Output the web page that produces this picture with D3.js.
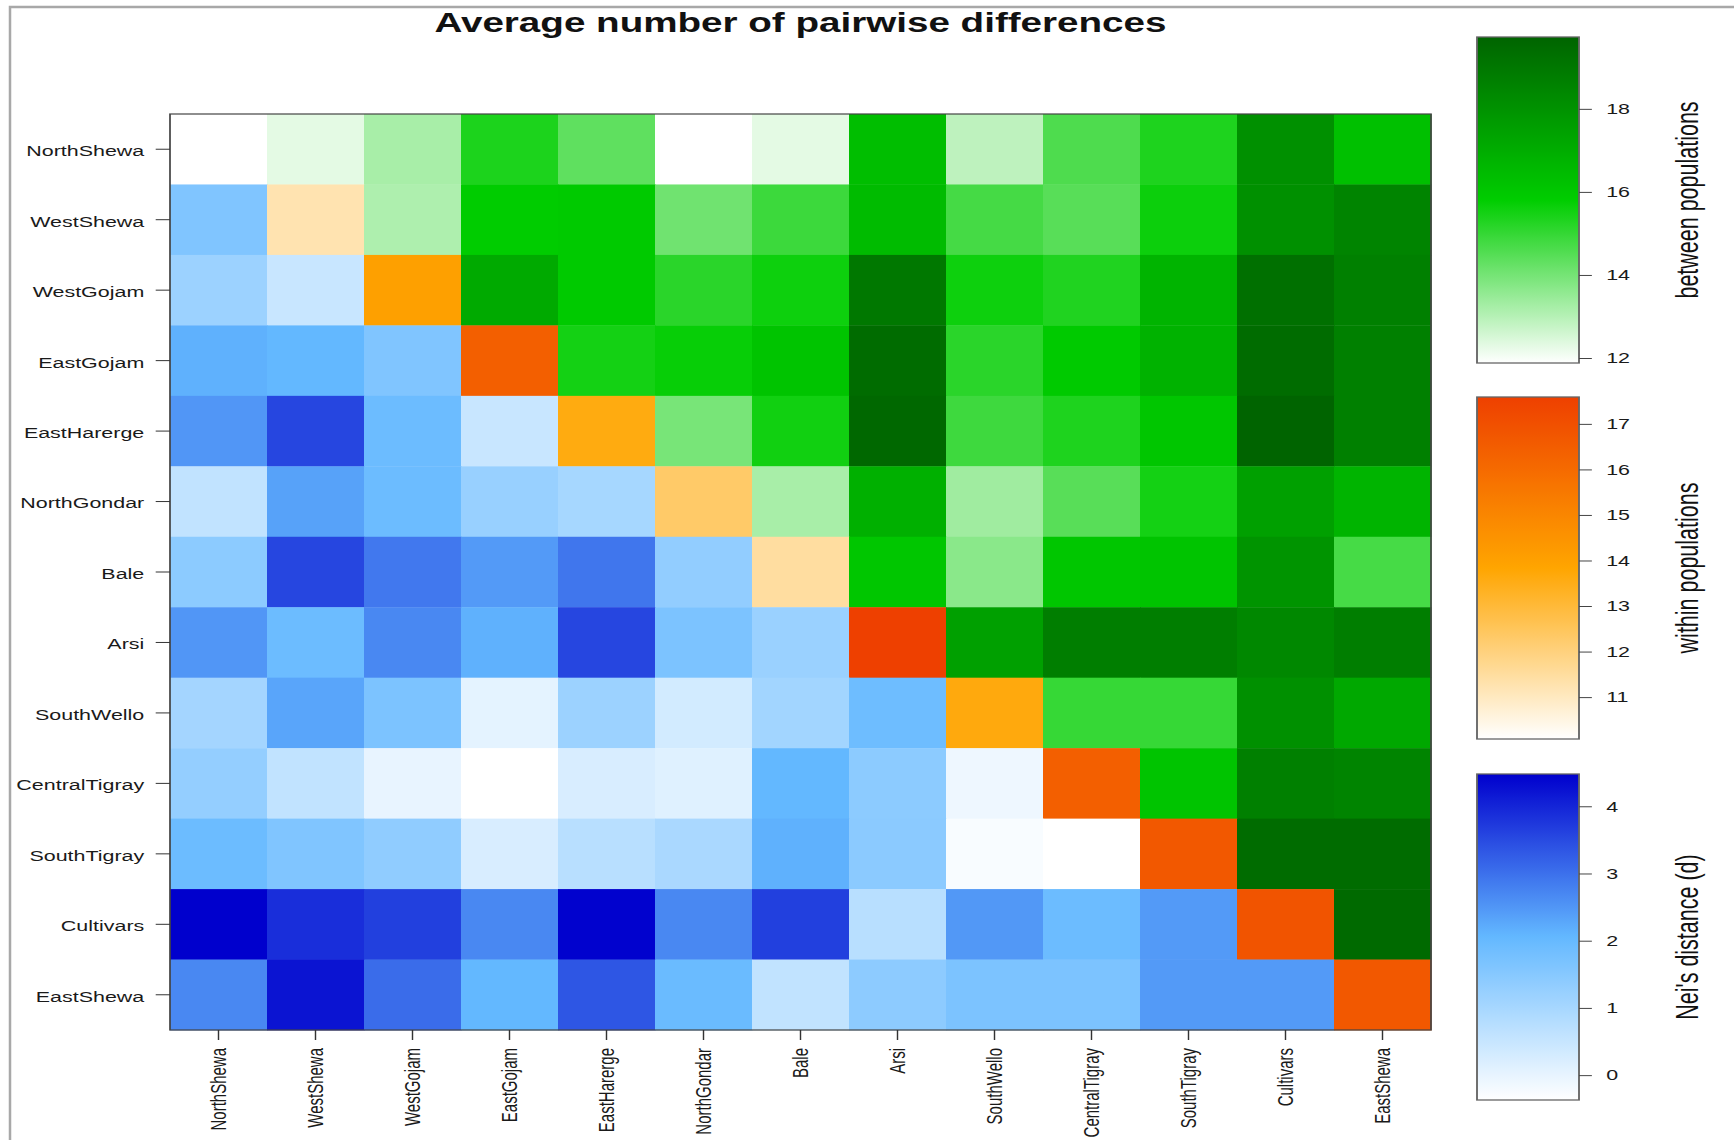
<!DOCTYPE html>
<html>
<head>
<meta charset="utf-8">
<script src="https://cdn.jsdelivr.net/npm/d3@7"></script>
<style>
  body { margin: 0; background: #fff; }
  svg { display: block; font-family: "Liberation Sans", Arial, sans-serif; }
</style>
</head>
<body>
<svg id="chart" width="1734" height="1140"></svg>
<script>
// ---- data -------------------------------------------------------------
const chartTitle = "Average number of pairwise differences";

const populations = [
  "NorthShewa", "WestShewa", "WestGojam", "EastGojam", "EastHarerge",
  "NorthGondar", "Bale", "Arsi", "SouthWello", "CentralTigray",
  "SouthTigray", "Cultivars", "EastShewa"
];

// average pairwise differences within each population (diagonal)
const withinPop = [10.08, 11.25, 14.03, 16.45, 13.60, 12.30, 11.48, 17.59, 13.65, 16.45, 16.70, 16.85, 16.70];

// average pairwise differences between populations (upper triangle, row i, columns i+1..)
const betweenPop = [
  [12.30, 13.22, 15.37, 14.34, 11.88, 12.30, 16.37, 12.88, 14.60, 15.34, 18.08, 16.29],
  [13.13, 15.85, 15.90, 14.08, 14.88, 16.48, 14.75, 14.45, 15.62, 18.08, 18.53],
  [17.12, 15.90, 15.16, 15.60, 18.98, 15.60, 15.31, 16.74, 19.28, 18.68],
  [15.49, 15.70, 16.14, 19.43, 15.16, 15.90, 16.81, 19.43, 18.68],
  [13.96, 15.55, 19.58, 14.85, 15.34, 16.05, 19.73, 18.68],
  [13.22, 16.89, 13.34, 14.45, 15.50, 17.49, 16.74],
  [16.05, 13.68, 16.05, 16.14, 17.94, 14.73],
  [17.49, 18.76, 18.76, 18.38, 18.76],
  [14.97, 14.97, 18.08, 17.19],
  [16.14, 18.68, 18.53],
  [19.43, 19.43],
  [19.50],
  []
];

// Nei's distance (lower triangle, row i, columns 0..i-1)
const neiDistance = [
  [],
  [1.60],
  [1.17, 0.48],
  [2.15, 2.05, 1.60],
  [2.50, 3.56, 1.91, 0.48],
  [0.60, 2.34, 1.91, 1.23, 1.01],
  [1.42, 3.56, 2.90, 2.45, 2.92, 1.33],
  [2.50, 1.91, 2.69, 2.15, 3.56, 1.67, 1.20],
  [1.05, 2.30, 1.67, 0.05, 1.17, 0.33, 1.08, 1.88],
  [1.29, 0.60, -0.01, -0.37, 0.24, 0.12, 2.05, 1.42, -0.11],
  [1.91, 1.60, 1.36, 0.24, 0.74, 0.95, 2.15, 1.44, -0.26, -0.37],
  [4.48, 3.87, 3.64, 2.69, 4.45, 2.69, 3.64, 0.74, 2.48, 1.91, 2.45],
  [2.69, 4.22, 3.06, 2.05, 3.35, 1.95, 0.60, 1.40, 1.67, 1.67, 2.45, 2.45]
];

const betweenTicks = [12, 14, 16, 18];
const withinTicks = [11, 12, 13, 14, 15, 16, 17];
const neiTicks = [0, 1, 2, 3, 4];

const legendTitles = ["between populations", "within populations", "Nei's distance (d)"];

// ---- layout -----------------------------------------------------------
// The figure is drawn in a horizontally widened coordinate frame.
const SX = 1.43;
const svg = d3.select("#chart");

svg.append("path")
  .attr("d", "M10,1140 V7 H1734")
  .attr("fill", "none")
  .attr("stroke", "#a8a8a8")
  .attr("stroke-width", 2.5);

const g = svg.append("g").attr("transform", `scale(${SX},1)`);

const plot = { x0: 170 / SX, x1: 1431 / SX, y0: 114, y1: 1030 };

const x = d3.scaleBand().domain(populations).range([plot.x0, plot.x1]);
const y = d3.scaleBand().domain(populations).range([plot.y0, plot.y1]);

function ramp(values, colors) {
  const [lo, hi] = d3.extent(values);
  return d3.scaleLinear()
    .domain([lo, (lo + hi) / 2, hi])
    .range(colors)
    .interpolate(d3.interpolateRgb);
}

const colorBetween = ramp(betweenPop.flat(), ["#ffffff", "#00cd00", "#006400"]);
const colorWithin = ramp(withinPop, ["#ffffff", "#ffa500", "#ee4000"]);
const colorNei = ramp(neiDistance.flat(), ["#ffffff", "#63b8ff", "#0000cd"]);

const cells = [];
populations.forEach((rowPop, i) => {
  populations.forEach((colPop, j) => {
    let value, color;
    if (i === j) { value = withinPop[i]; color = colorWithin; }
    else if (j > i) { value = betweenPop[i][j - i - 1]; color = colorBetween; }
    else { value = neiDistance[i][j]; color = colorNei; }
    cells.push({ rowPop, colPop, value, fill: color(value) });
  });
});

// ---- heatmap ----------------------------------------------------------
g.append("g")
  .selectAll("rect")
  .data(cells)
  .join("rect")
  .attr("x", d => x(d.colPop))
  .attr("y", d => y(d.rowPop))
  .attr("width", x.bandwidth() + 0.4)
  .attr("height", y.bandwidth() + 0.4)
  .attr("fill", d => d.fill);

g.append("rect")
  .attr("x", plot.x0)
  .attr("y", plot.y0)
  .attr("width", plot.x1 - plot.x0)
  .attr("height", plot.y1 - plot.y0)
  .attr("fill", "none")
  .attr("stroke", "#444")
  .attr("stroke-width", 1.2);

// ---- axes -------------------------------------------------------------
const yAxis = g.append("g")
  .attr("transform", `translate(${plot.x0},0)`)
  .call(d3.axisLeft(y).tickSize(10).tickPadding(8));
yAxis.select(".domain").remove();
yAxis.selectAll("text").attr("dy", "0.46em");

const xAxis = g.append("g")
  .attr("transform", `translate(0,${plot.y1})`)
  .call(d3.axisBottom(x).tickSize(10));
xAxis.select(".domain").remove();
xAxis.selectAll("text")
  .attr("transform", "rotate(-90)")
  .attr("x", -18)
  .attr("y", 0)
  .attr("dy", "0.34em")
  .style("text-anchor", "end");

[yAxis, xAxis].forEach(ax => {
  ax.selectAll("text").attr("font-size", 15).attr("font-family", "Liberation Sans, Arial, sans-serif").attr("fill", "#1a1a1a");
  ax.selectAll("line").attr("stroke", "#333");
});

// ---- title ------------------------------------------------------------
g.append("text")
  .attr("x", (plot.x0 + plot.x1) / 2)
  .attr("y", 32)
  .attr("text-anchor", "middle")
  .attr("font-size", 27)
  .attr("font-weight", "bold")
  .attr("fill", "#111")
  .text(chartTitle);

// ---- colour legends ---------------------------------------------------
const legendX0 = 1477 / SX, legendX1 = 1579 / SX;
const legends = [
  { id: "gradBetween", scale: colorBetween, ticks: betweenTicks, top: 37, bottom: 363, title: legendTitles[0] },
  { id: "gradWithin", scale: colorWithin, ticks: withinTicks, top: 397, bottom: 739, title: legendTitles[1] },
  { id: "gradNei", scale: colorNei, ticks: neiTicks, top: 774, bottom: 1100, title: legendTitles[2] }
];

const defs = svg.append("defs");

legends.forEach(lg => {
  const dom = lg.scale.domain();
  const lo = dom[0], hi = dom[dom.length - 1];
  const grad = defs.append("linearGradient")
    .attr("id", lg.id)
    .attr("x1", 0).attr("y1", 1).attr("x2", 0).attr("y2", 0);
  d3.range(0, 41).forEach(k => {
    const t = k / 40;
    grad.append("stop")
      .attr("offset", t)
      .attr("stop-color", lg.scale(lo + t * (hi - lo)));
  });

  const ly = d3.scaleLinear().domain([lo, hi]).range([lg.bottom, lg.top]);

  g.append("rect")
    .attr("x", legendX0)
    .attr("y", lg.top)
    .attr("width", legendX1 - legendX0)
    .attr("height", lg.bottom - lg.top)
    .attr("fill", `url(#${lg.id})`)
    .attr("stroke", "#666")
    .attr("stroke-width", 1.3);

  const ax = g.append("g")
    .attr("transform", `translate(${legendX1},0)`)
    .call(d3.axisRight(ly).tickValues(lg.ticks).tickSize(9).tickPadding(10).tickFormat(d3.format("d")));
  ax.select(".domain").remove();
  ax.selectAll("line").attr("stroke", "#444");
  ax.selectAll("text").attr("font-size", 15).attr("font-family", "Liberation Sans, Arial, sans-serif").attr("fill", "#1a1a1a");

  g.append("text")
    .attr("transform", `translate(${1690 / SX},${(lg.top + lg.bottom) / 2}) rotate(-90)`)
    .attr("text-anchor", "middle")
    .attr("dy", "0.27em")
    .attr("font-size", 21.5)
    .attr("fill", "#111")
    .text(lg.title);
});
</script>
</body>
</html>
